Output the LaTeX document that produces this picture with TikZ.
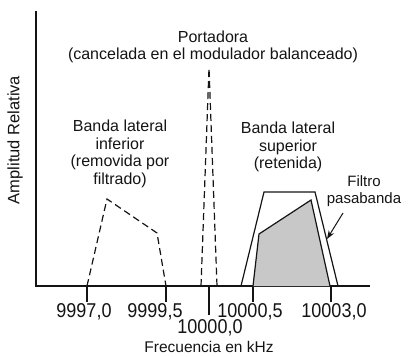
\documentclass[tikz,border=0pt]{standalone}
\usepackage{fontspec}
\setmainfont{Liberation Sans}
\usetikzlibrary{arrows.meta,positioning}
\definecolor{ink}{RGB}{20,20,20}
\definecolor{shade}{RGB}{200,200,200}
\tikzset{
  >={Stealth[length=3mm,width=2.2mm]},
  axis/.style={draw=ink,line width=1.2pt},
  band/.style={draw=ink,line width=1.2pt,dash pattern=on 7pt off 4pt},
  filt/.style={draw=ink,line width=1.2pt,line join=miter},
  tag/.style={font=\fontsize{16}{17.5}\selectfont,text=ink,align=center,inner sep=0pt},
  ticklab/.style={font=\fontsize{20}{22}\selectfont,text=ink,inner sep=0pt,xscale=0.9},
}
\begin{document}
\begin{tikzpicture}[x=1pt,y=1pt]
  \useasboundingbox (-36,-70) rectangle (373,286);
  % axes
  \draw[axis] (0,275) -- (0,0) -- (334,0);
  \node[tag,rotate=90,font=\fontsize{16.5}{18}\selectfont] (ylab) at (-21,146) {Amplitud Relativa};
  % ticks and labels
  \foreach \x in {51,130,217,295}
    \draw[axis] (\x,0) -- (\x,-16);
  \draw[axis] (173,0) -- (173,-29);
  \node[ticklab] (ta) at (48,-26) {9997,0};
  \node[ticklab] (tb) at (119,-26) {9999,5};
  \node[ticklab] (tc) at (214,-26) {10000,5};
  \node[ticklab] (td) at (298,-26) {10003,0};
  \node[ticklab] (te) at (174,-42) {10000,0};
  \node[tag,font=\fontsize{15.5}{17}\selectfont] (xlab) at (173,-61) {Frecuencia en kHz};
  % bands
  \draw[band] (51,0) -- (71,87) -- (121,53) -- (130,0);
  \draw[band] (165,0) -- (173,218) -- (181,0);
  \draw[filt,fill=shade] (217,0) -- (223,52) -- (275,86) -- (294,0);
  \draw[filt] (205,0) -- (228,94) -- (279,94) -- (302,0);
  % labels
  \node[tag] (carrier) at (177,239) {Portadora\\(cancelada en el modulador balanceado)};
  \node[tag] (lsb) at (84,132) {Banda lateral\\inferior\\(removida por\\filtrado)};
  \node[tag] (usb) at (252,139) {Banda lateral\\superior\\(retenida)};
  \node[tag,font=\fontsize{15}{17}\selectfont] (filter) at (328,95) {Filtro\\pasabanda};
  \coordinate (tail) at (307,73);
  \coordinate (edge) at (291,47);
  \draw[->,line width=1pt,ink] (tail) -- (edge);
\end{tikzpicture}
\end{document}
